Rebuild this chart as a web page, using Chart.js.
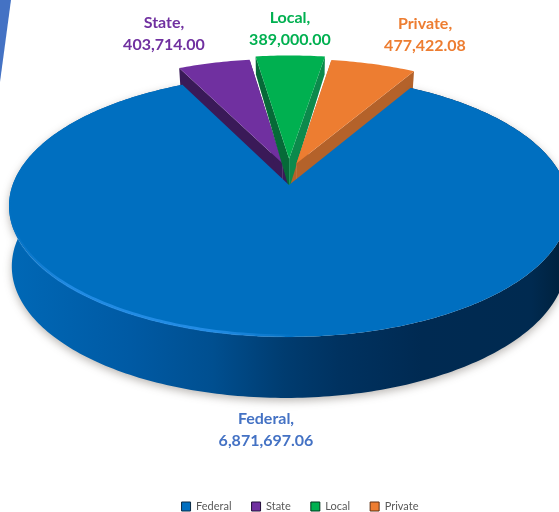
<!DOCTYPE html>
<html>
<head>
<meta charset="utf-8">
<title>Funding by source</title>
<style>
  html, body { margin: 0; padding: 0; background: #fff; overflow: hidden; }
  #wrap { position: relative; width: 559px; height: 512px; }
  #sliver { position: absolute; left: 0; top: 0; width: 11px; height: 82px; background: #4472c4;
            clip-path: polygon(0 0, 100% 0, 0 100%); z-index: 2; }
</style>
</head>
<body>
<div id="wrap">
  <div id="sliver"></div>
  <canvas id="chart" width="559" height="512"></canvas>
</div>
<script src="https://cdn.jsdelivr.net/npm/chart.js@4"></script>
<script>
// data
const categories = ["Federal", "State", "Local", "Private"];
const values = [6871697.06, 403714.00, 389000.00, 477422.08];

// colours
const faceColors = ["#006fc0", "#7030a0", "#00b050", "#ed7d31"];
const wallColors = ["#003c70", "#3a1a58", "#066a38", "#b4622a"];
const wallColorsRight = ["#003c70", "#3a1a58", "#0c8a4c", "#b4622a"];
const legendBorders = ["#0b2a45", "#24103a", "#03351c", "#5e3114"];
const textColors = ["#4472c4", "#7030a0", "#00b050", "#ed7d31"];

// where the labels sit
const labelCentres = [[266, 419], [164, 23], [290, 18], [425, 24]];
const LABEL_LINE = 22;

// perspective of the disc, y is towards the viewer
const CX = 289, CY = 185, A = 127.6, B = 276.4, K = -0.16;
const WEDGE_RIM_DEPTH = 18, WEDGE_TIP_DEPTH = 30;
function project(X, Y) {
  const w = 1 + K * Y;
  return { x: CX + B * X / w, y: CY + A * Y / w };
}
function lower(p, d) {
  return { x: CX + (p.x - CX) * 0.99, y: p.y + d };
}

// face outline of one slice, as points on the disc
function sliceOutline(el) {
  const offset = el.options.offset / el.outerRadius;
  const mid = (el.startAngle + el.endAngle) / 2;
  const ox = offset ? Math.cos(mid) * offset * 0.45 : 0;
  const oy = offset ? Math.sin(mid) * offset : 0;
  const rim = [];
  const steps = Math.ceil((el.endAngle - el.startAngle) * 60);
  for (let i = 0; i <= steps; i++) {
    const a = el.startAngle + (el.endAngle - el.startAngle) * i / steps;
    rim.push({ X: ox + Math.cos(a), Y: oy + Math.sin(a) });
  }
  return { apex: { X: ox, Y: oy }, rim: rim };
}

function tracePts(ctx, pts) {
  ctx.beginPath();
  pts.forEach((p, i) => i ? ctx.lineTo(p.x, p.y) : ctx.moveTo(p.x, p.y));
  ctx.closePath();
}

// closes the small gap between a wedge tip and the middle of the disc
function drawTipBacking(ctx, el, i) {
  const o = sliceOutline(el);
  const apex = project(o.apex.X, o.apex.Y);
  ctx.fillStyle = wallColors[i];
  tracePts(ctx, [apex, lower(apex, WEDGE_TIP_DEPTH), project(0, 0)]);
  ctx.fill();
}

function drawWedge(ctx, el, i) {
  const o = sliceOutline(el);
  const apex = project(o.apex.X, o.apex.Y);
  const apexLow = lower(apex, WEDGE_TIP_DEPTH);
  const top = o.rim.map(p => project(p.X, p.Y));
  const low = top.map(p => lower(p, WEDGE_RIM_DEPTH));

  // radial walls
  ctx.fillStyle = wallColors[i];
  tracePts(ctx, [apex, top[0], low[0], apexLow]);
  ctx.fill();
  ctx.fillStyle = wallColorsRight[i];
  tracePts(ctx, [apex, top[top.length - 1], low[low.length - 1], apexLow]);
  ctx.fill();

  ctx.fillStyle = faceColors[i];
  tracePts(ctx, [apex].concat(top));
  ctx.fill();
}

function drawFederal(ctx, el) {
  const o = sliceOutline(el);
  const apex = project(o.apex.X, o.apex.Y);
  const top = o.rim.map(p => project(p.X, p.Y));
  const low = o.rim.map((p, n) => lower(top[n], 58 + 3 * p.Y - 2 * p.X));

  // side wall with soft shadow under it
  const wall = ctx.createLinearGradient(9, 0, 559, 0);
  wall.addColorStop(0, "#0068b6");
  wall.addColorStop(0.22, "#005aa4");
  wall.addColorStop(0.37, "#004f90");
  wall.addColorStop(0.5, "#003c70");
  wall.addColorStop(0.6, "#003260");
  wall.addColorStop(0.75, "#002a52");
  wall.addColorStop(0.95, "#002a50");
  wall.addColorStop(1, "#00223f");
  ctx.save();
  ctx.shadowColor = "rgba(60,50,40,0.35)";
  ctx.shadowBlur = 9;
  ctx.shadowOffsetY = 3;
  ctx.fillStyle = wall;
  tracePts(ctx, top.concat(low.slice().reverse()));
  ctx.fill();
  ctx.restore();

  ctx.fillStyle = faceColors[0];
  tracePts(ctx, [apex].concat(top));
  ctx.fill();

  // light rim on the lower left edge
  const glow = ctx.createLinearGradient(9, 0, 300, 0);
  glow.addColorStop(0, "rgba(40,145,235,0)");
  glow.addColorStop(0.2, "rgba(40,145,235,0.8)");
  glow.addColorStop(0.7, "rgba(40,145,235,0.85)");
  glow.addColorStop(1, "rgba(40,145,235,0)");
  ctx.strokeStyle = glow;
  ctx.lineWidth = 3;
  ctx.beginPath();
  top.forEach((p, n) => {
    if (o.rim[n].Y > 0.05 && p.x < 300) ctx.lineTo(p.x, p.y - 1);
  });
  ctx.stroke();
}

// draws the arcs the pie controller laid out as a tilted 3D pie
const tiltedPie = {
  id: "tiltedPie",
  beforeDatasetDraw(chart) {
    const ctx = chart.ctx;
    const arcs = chart.getDatasetMeta(0).data;
    ctx.save();
    arcs.slice(1).forEach((el, n) => drawTipBacking(ctx, el, n + 1));
    arcs.slice(1).forEach((el, n) => drawWedge(ctx, el, n + 1));
    drawFederal(ctx, arcs[0]);
    ctx.restore();
    return false;
  }
};

// "Name," over the value, coloured like the slice
const sliceLabels = {
  id: "sliceLabels",
  afterDraw(chart) {
    const ctx = chart.ctx;
    ctx.save();
    ctx.font = 'bold 16px Lato, "Open Sans", sans-serif';
    ctx.textAlign = "center";
    ctx.textBaseline = "middle";
    categories.forEach((name, i) => {
      const text = values[i].toLocaleString("en-US", { minimumFractionDigits: 2, maximumFractionDigits: 2 });
      ctx.fillStyle = textColors[i];
      ctx.fillText(name + ",", labelCentres[i][0], labelCentres[i][1]);
      ctx.fillText(text, labelCentres[i][0], labelCentres[i][1] + LABEL_LINE);
    });
    ctx.restore();
  }
};

new Chart(document.getElementById("chart"), {
  type: "pie",
  data: {
    labels: categories,
    datasets: [{
      data: values,
      backgroundColor: faceColors,
      borderColor: legendBorders,
      borderWidth: 1,
      offset: [0, 40, 46, 40]
    }]
  },
  options: {
    responsive: false,
    animation: false,
    rotation: 30,
    layout: { padding: { left: 41, bottom: -10 } },
    plugins: {
      tooltip: { enabled: false },
      legend: {
        position: "bottom",
        labels: {
          boxWidth: 9,
          boxHeight: 9,
          padding: 20,
          color: "#595959",
          font: { family: "Lato", size: 11 }
        }
      }
    }
  },
  plugins: [tiltedPie, sliceLabels]
});
</script>
</body>
</html>
